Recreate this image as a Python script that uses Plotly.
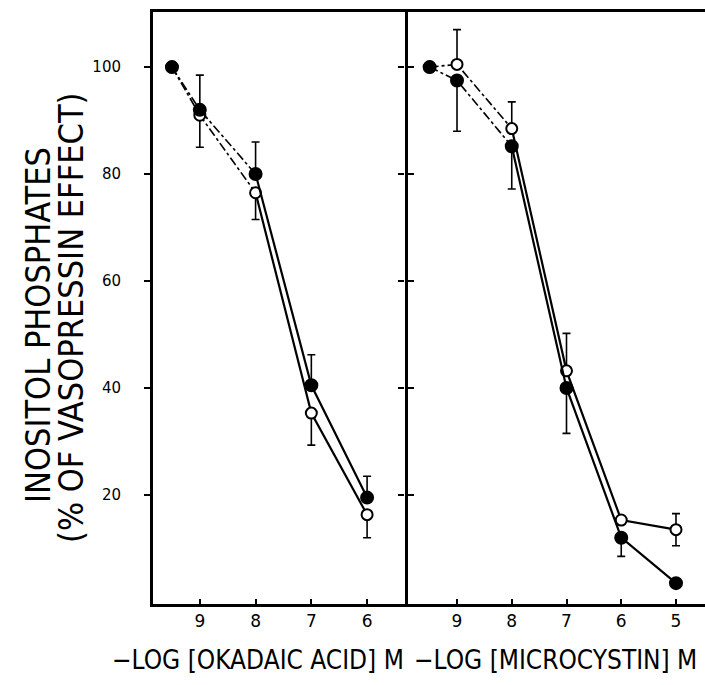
import plotly.graph_objects as go

# ---- data ----
x_oka = [9.5, 9, 8, 7, 6]
oka_filled = [100, 92, 80, 40.5, 19.5]
oka_filled_err_up = [0, 6.5, 6, 5.7, 4]
oka_open = [100, 91, 76.5, 35.3, 16.3]
oka_open_err_down = [0, 6, 5, 6, 4.3]

x_mic = [9.5, 9, 8, 7, 6, 5]
mic_filled = [100, 97.5, 85.2, 40, 12, 3.5]
mic_filled_err_down = [0, 9.5, 8, 8.5, 3.5, 0]
mic_open = [100, 100.5, 88.5, 43.2, 15.3, 13.5]
mic_open_err_up = [0, 6.5, 5, 7, 0, 3]
mic_open_err_down = [0, 0, 0, 0, 0, 3]

oka_ticks = [9, 8, 7, 6]
mic_ticks = [9, 8, 7, 6, 5]
y_ticks = [20, 40, 60, 80, 100]

fig = go.Figure()

def add_series(xs, ys, xa, ya, filled, up, down):
    # dashed upper part (first three points), solid remainder
    fig.add_trace(go.Scatter(x=xs[:3], y=ys[:3], mode="lines", xaxis=xa, yaxis=ya,
                             line=dict(color="black", width=1.6, dash="dashdot"),
                             showlegend=False, hoverinfo="skip"))
    fig.add_trace(go.Scatter(x=xs[2:], y=ys[2:], mode="lines", xaxis=xa, yaxis=ya,
                             line=dict(color="black", width=2.2),
                             showlegend=False, hoverinfo="skip"))
    fig.add_trace(go.Scatter(
        x=xs, y=ys, mode="markers", xaxis=xa, yaxis=ya,
        marker=dict(symbol="circle", size=12 if filled else 11,
                    color="black" if filled else "white",
                    line=dict(color="black", width=2)),
        error_y=dict(type="data", symmetric=False, array=up, arrayminus=down,
                     color="black", thickness=1.6, width=4),
        showlegend=False))

add_series(x_oka, oka_open, "x", "y", False, [0]*len(x_oka), oka_open_err_down)
add_series(x_oka, oka_filled, "x", "y", True, oka_filled_err_up, [0]*len(x_oka))
add_series(x_mic, mic_open, "x2", "y2", False, mic_open_err_up, mic_open_err_down)
add_series(x_mic, mic_filled, "x2", "y2", True, [0]*len(x_mic), mic_filled_err_down)

split = (405 - 153) / (705 - 153)
yr = [-0.4, 110.3]
tickfont_x = dict(family="DejaVu Sans", size=17, color="black")
tickfont_y = dict(family="DejaVu Sans", size=15, color="black")

fig.update_layout(
    width=705, height=685,
    margin=dict(l=153, r=0, t=12, b=81),
    paper_bgcolor="white", plot_bgcolor="white",
    xaxis=dict(domain=[0, split], range=[9.84, 5.32], anchor="y",
               tickvals=oka_ticks, ticktext=[str(t) for t in oka_ticks],
               ticks="inside", ticklen=5, tickwidth=1.5, tickcolor="black",
               showline=True, linecolor="black", linewidth=2.5, mirror=True,
               showgrid=False, zeroline=False, tickfont=tickfont_x),
    xaxis2=dict(domain=[split, 1], range=[9.95, 4.47], anchor="y2",
                tickvals=mic_ticks, ticktext=[str(t) for t in mic_ticks],
                ticks="inside", ticklen=5, tickwidth=1.5, tickcolor="black",
                showline=True, linecolor="black", linewidth=2.5, mirror=True,
                showgrid=False, zeroline=False, tickfont=tickfont_x),
    yaxis=dict(range=yr, anchor="x", tickvals=y_ticks,
               ticks="outside", ticklen=6, tickwidth=1.5, tickcolor="black",
               showline=True, linecolor="black", linewidth=3, mirror="ticks",
               showgrid=False, zeroline=False, tickfont=tickfont_y,
               ticklabelstandoff=20),
    yaxis2=dict(range=yr, anchor="x2", tickvals=y_ticks, showticklabels=False,
                ticks="outside", ticklen=6, tickwidth=1.5, tickcolor="black",
                showline=False, showgrid=False, zeroline=False),
)

title_font = dict(family="DejaVu Sans Condensed, sans-serif", size=26, color="black")
ytitle_font = dict(family="DejaVu Sans Condensed, sans-serif", size=34, color="black")

def px_x(p):
    return (p - 153) / 552

def px_y(p):
    return (604 - p) / 592

fig.add_annotation(text="−LOG [OKADAIC ACID] M", xref="paper", yref="paper",
                   x=px_x(258), y=px_y(660), xanchor="center", yanchor="middle",
                   showarrow=False, font=title_font)
fig.add_annotation(text="−LOG [MICROCYSTIN] M", xref="paper", yref="paper",
                   x=px_x(555), y=px_y(660), xanchor="center", yanchor="middle",
                   showarrow=False, font=title_font)
fig.add_annotation(text="INOSITOL PHOSPHATES", xref="paper", yref="paper",
                   x=px_x(38), y=px_y(325), xanchor="center", yanchor="middle",
                   textangle=-90, showarrow=False, font=ytitle_font)
fig.add_annotation(text="(% OF VASOPRESSIN EFFECT)", xref="paper", yref="paper",
                   x=px_x(71), y=px_y(318), xanchor="center", yanchor="middle",
                   textangle=-90, showarrow=False, font=ytitle_font)

fig.write_html("out.html")
